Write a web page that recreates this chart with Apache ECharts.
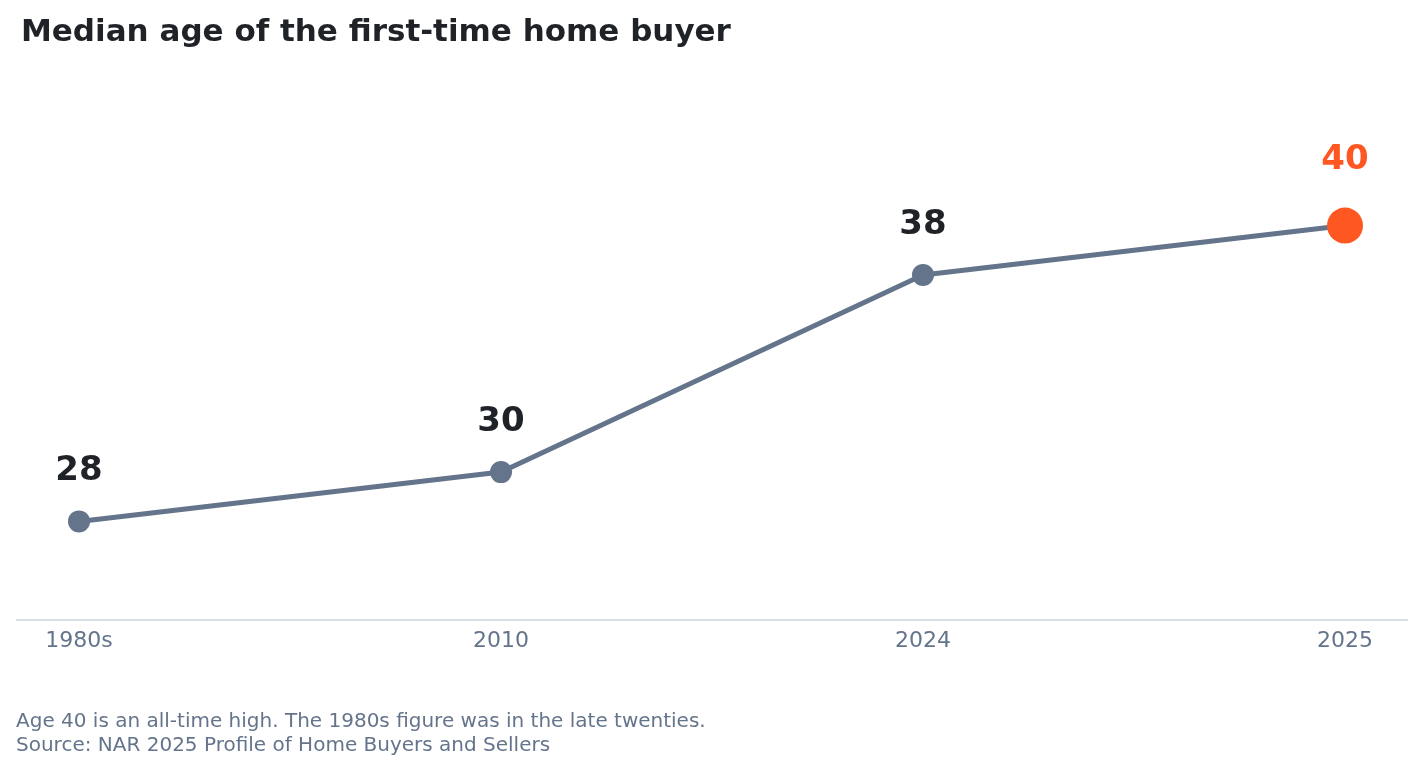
<!DOCTYPE html>
<html>
<head>
<meta charset="utf-8">
<script src="https://cdn.jsdelivr.net/npm/echarts@6/dist/echarts.min.js"></script>
<style>html,body{margin:0;padding:0;background:#fff}#main{width:1423px;height:771px}</style>
</head>
<body>
<div id="main"></div>
<script>
// 数据
const categories = ['1980s', '2010', '2024', '2025'];
const ages = [28, 30, 38, 40];

const chart = echarts.init(document.getElementById('main'));
const font = '"DejaVu Sans", sans-serif';

const points = ages.map((v, i) => {
  const last = i === ages.length - 1;
  return {
    value: v,
    symbolSize: last ? 36 : 22,
    itemStyle: { color: last ? '#ff5722' : '#64748b' },
    label: {
      show: true, position: 'top', distance: last ? 30 : 22,
      formatter: '{c}', fontSize: 34, fontWeight: 'bold', fontFamily: font,
      color: last ? '#ff5722' : '#1f2328'
    }
  };
});

chart.setOption({
  animation: false,
  title: {
    text: 'Median age of the first-time home buyer',
    left: 16, top: 12,
    textStyle: { fontSize: 31, fontWeight: 'bold', color: '#1f2328', fontFamily: font }
  },
  grid: { left: 79, right: 78, top: 127, bottom: 151 },
  xAxis: {
    type: 'category', data: categories, boundaryGap: false,
    axisLine: { show: false }, axisTick: { show: false },
    axisLabel: { color: '#64748b', fontSize: 22, fontFamily: font, margin: 10 }
  },
  yAxis: { type: 'value', min: 24, max: 44, show: false, splitLine: { show: false } },
  graphic: [
    { type: 'line', shape: { x1: 16, y1: 620, x2: 1408, y2: 620 }, style: { stroke: '#cbd5e1', lineWidth: 1.5 } },
    { type: 'text', left: 16, top: 710, style: { text: 'Age 40 is an all-time high. The 1980s figure was in the late twenties.\nSource: NAR 2025 Profile of Home Buyers and Sellers', fill: '#64748b', font: '20px ' + font, lineHeight: 24 } }
  ],
  series: [{
    type: 'line', data: points, symbol: 'circle',
    lineStyle: { color: '#64748b', width: 5 }
  }]
});
</script>
</body>
</html>
